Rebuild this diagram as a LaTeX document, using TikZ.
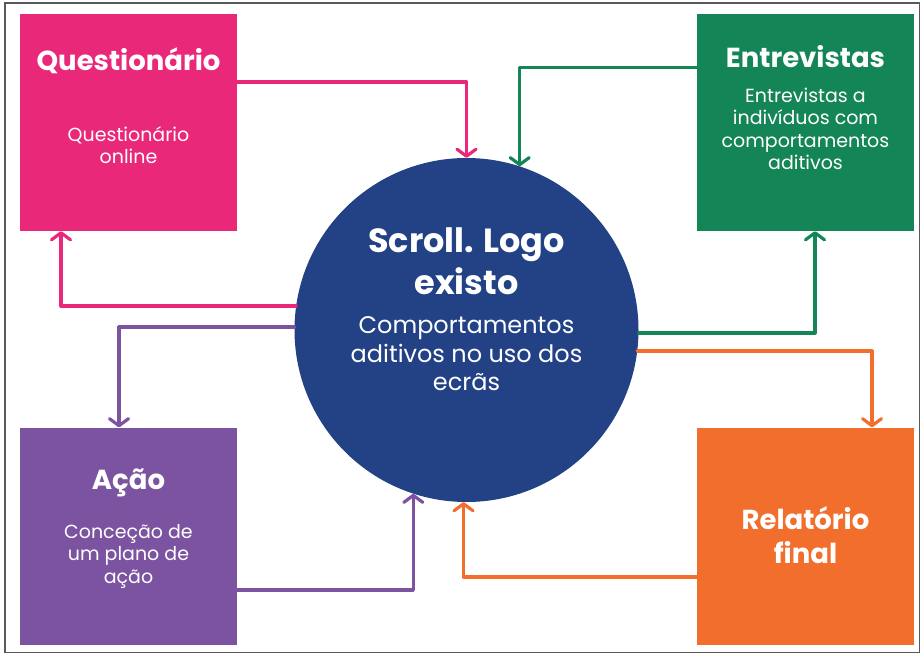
\documentclass[tikz,border=0pt]{standalone}
\usepackage{fontspec}
\setmainfont{Poppins}
\usetikzlibrary{arrows.meta}
\definecolor{qpink}{RGB}{234,40,122}
\definecolor{egreen}{RGB}{20,133,87}
\definecolor{apurple}{RGB}{123,83,160}
\definecolor{rorange}{RGB}{241,110,45}
\definecolor{cnavy}{RGB}{34,66,133}
\begin{document}
\begin{tikzpicture}[x=1pt,y=-1pt,
  box/.style={rectangle,draw=none,minimum width=217pt,minimum height=217pt,inner sep=0pt},
  ttl/.style={text=white,font=\bfseries\fontsize{27.5}{34}\selectfont,align=center,inner sep=0pt},
  sub/.style={text=white,font=\fontsize{19}{22.5}\selectfont,align=center,inner sep=0pt},
  arr/.style={line width=3.2pt,line join=round,line cap=round,-{Straight Barb[length=7pt,width=19pt,round]}}]
\useasboundingbox (0,0) rectangle (921,655);
\draw[gray!70!black,line width=1.4pt] (5,3) rectangle (919.5,652.5);
% boxes
\node[box,fill=qpink] (q) at (128.5,122.5) {};
\node[box,fill=egreen] (e) at (805.5,122.5) {};
\node[box,fill=apurple] (a) at (128.5,536) {};
\node[box,fill=rorange] (r) at (805.5,536) {};
\node[circle,fill=cnavy,minimum size=344pt,inner sep=0pt] (c) at (466.5,330) {};
% texts
\node[ttl] (qt) at (128.5,61) {Questionário};
\node[sub] (qs) at (128.5,145) {Questionário\\online};
\node[ttl] (et) at (805.5,57) {Entrevistas};
\node[sub] (es) at (805.5,129) {Entrevistas a\\indivíduos com\\comportamentos\\aditivos};
\node[ttl] (at) at (128.5,483) {Ação};
\node[sub] (as) at (128.5,556) {Conceção de\\um plano de\\ação};
\node[ttl] (rt) at (805.5,535) {Relatório\\final};
\node[ttl,font=\bfseries\fontsize{33.5}{42}\selectfont] (ct) at (466.5,261) {Scroll. Logo\\existo};
\node[sub,font=\fontsize{24}{28.5}\selectfont] (cs) at (466.5,354) {Comportamentos\\aditivos no uso dos\\ecrãs};
% connectors
\draw[arr,qpink] ([yshift=40.5pt]q.east) -| (c.north);
\draw[arr,qpink] (c.172) -| ([xshift=-67.5pt]q.south);
\draw[arr,egreen] ([yshift=55pt]e.west) -| (c.72);
\draw[arr,egreen] (c.-1) -| ([xshift=9.5pt]e.south);
\draw[arr,apurple] (c.179) -| ([xshift=-9.5pt]a.north);
\draw[arr,apurple] ([yshift=-54pt]a.east) -| (c.-108);
\draw[arr,rorange] (c.-7) -| ([xshift=66.5pt]r.north);
\draw[arr,rorange] ([yshift=-41pt]r.west) -| (c.-91);
\end{tikzpicture}
\end{document}
